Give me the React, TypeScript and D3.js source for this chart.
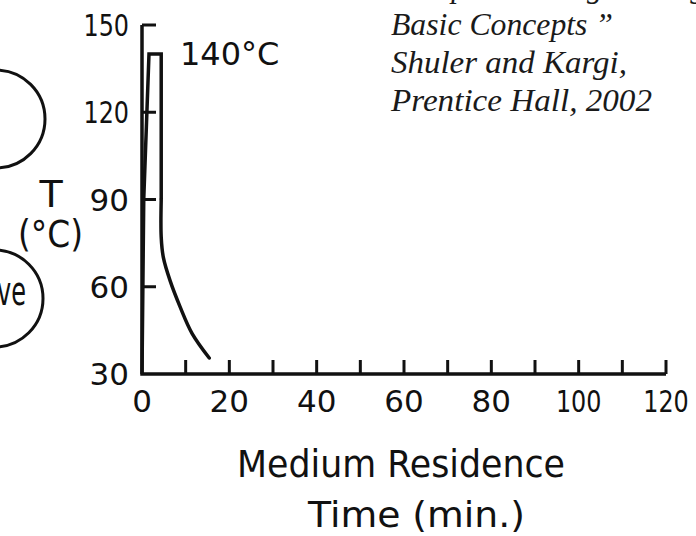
import React from "react";
import * as d3 from "d3";

// heating / holding / cooling profile
const riseTime = [0, 0.4, 1.6, 4.4, 4.4];
const riseTemp = [30, 90, 140, 140, 90];
const coolTime = [4.4, 4.4, 4.9, 6.45, 8.75, 11.45, 15.4];
const coolTemp = [90, 77, 70, 62, 53, 44, 35.5];

const xTickValues = [10, 20, 30, 40, 50, 60, 70, 80, 90, 100, 110, 120];
const xTickLabels = [0, 20, 40, 60, 80, 100, 120];
const yTickValues = [150, 120, 90, 60];
const yTickLabels = [150, 120, 90, 60, 30];

const citeLines = [
  "\u201CBioprocess Engineering:",
  "Basic Concepts \u201D",
  "Shuler and Kargi,",
  "Prentice Hall, 2002",
];
const citeWidths = [0, 222, 236, 261];

const W = 696;
const H = 536;
const lettering = "'DejaVu Sans', sans-serif";

const App: React.FC = () => {
  const x = d3.scaleLinear().domain([0, 120]).range([142, 666]);
  const y = d3.scaleLinear().domain([30, 150]).range([374, 25]);

  const line = d3
    .line<[number, number]>()
    .x((d) => x(d[0]))
    .y((d) => y(d[1]));

  const risePath = line.curve(d3.curveLinear)(
    riseTime.map((t, i) => [t, riseTemp[i]] as [number, number])
  );
  const coolPath = line.curve(d3.curveCatmullRom.alpha(0.5))(
    coolTime.map((t, i) => [t, coolTemp[i]] as [number, number])
  );

  const tickLen = 14;
  // the lettered "1" is a bare stroke, so numbers holding it run narrower
  const squeeze = (v: number) => (String(v).includes("1") ? 0.77 : 1);

  return (
    <svg
      width={W}
      height={H}
      style={{ position: "absolute", left: 0, top: 0, background: "#fff" }}
    >
      {/* cropped circles on the left edge */}
      <circle cx={-4} cy={119} r={49} fill="none" stroke="#111" strokeWidth={3} />
      <circle cx={-5.5} cy={298.5} r={48.5} fill="none" stroke="#111" strokeWidth={3} />
      <text
        transform="translate(26,305) scale(0.6,1)"
        textAnchor="end"
        fontFamily={lettering}
        fontSize={40}
        fill="#111"
      >
        ve
      </text>

      {/* y axis title */}
      <text x={51} y={207} textAnchor="middle" fontFamily={lettering} fontSize={38} fill="#111">
        T
      </text>
      <text
        x={18}
        y={247}
        textLength={65}
        lengthAdjust="spacingAndGlyphs"
        fontFamily={lettering}
        fontSize={37}
        fill="#111"
      >
        (°C)
      </text>

      {/* axes */}
      <path
        d={`M${x(0)},${y(150)} V${y(30)} H${x(120)}`}
        fill="none"
        stroke="#111"
        strokeWidth={3.5}
      />
      {yTickValues.map((v) => (
        <line
          key={"yt" + v}
          x1={x(0)}
          x2={x(0) + tickLen}
          y1={y(v)}
          y2={y(v)}
          stroke="#111"
          strokeWidth={3}
        />
      ))}
      {xTickValues.map((v) => (
        <line
          key={"xt" + v}
          x1={x(v)}
          x2={x(v)}
          y1={y(30)}
          y2={y(30) - tickLen}
          stroke="#111"
          strokeWidth={3}
        />
      ))}
      {yTickLabels.map((v) => (
        <text
          key={"yl" + v}
          transform={`translate(129,${y(v)}) scale(${squeeze(v)},1)`}
          dy="0.36em"
          textAnchor="end"
          fontFamily={lettering}
          fontSize={31}
          fill="#111"
        >
          {v}
        </text>
      ))}
      {xTickLabels.map((v) => (
        <text
          key={"xl" + v}
          transform={`translate(${x(v)},412) scale(${squeeze(v)},1)`}
          textAnchor="middle"
          fontFamily={lettering}
          fontSize={31}
          fill="#111"
        >
          {v}
        </text>
      ))}

      {/* temperature profile */}
      <path d={risePath || ""} fill="none" stroke="#111" strokeWidth={3.5} strokeLinejoin="miter" />
      <path d={coolPath || ""} fill="none" stroke="#111" strokeWidth={3.5} strokeLinecap="round" />
      <text x={180} y={65} fontFamily={lettering} fontSize={32} fill="#111">
        140°C
      </text>

      {/* x axis title */}
      <text
        x={237}
        y={477}
        textLength={328}
        lengthAdjust="spacingAndGlyphs"
        fontFamily={lettering}
        fontSize={37}
        fill="#111"
      >
        Medium Residence
      </text>
      <text
        x={308}
        y={527}
        textLength={217}
        lengthAdjust="spacingAndGlyphs"
        fontFamily={lettering}
        fontSize={35}
        fill="#111"
      >
        Time  (min.)
      </text>

      {/* citation */}
      {citeLines.map((s, i) => (
        <text
          key={"c" + i}
          x={391}
          y={-3 + i * 38}
          textLength={citeWidths[i] || undefined}
          lengthAdjust="spacingAndGlyphs"
          fontFamily="'Liberation Serif', 'Times New Roman', serif"
          fontStyle="italic"
          fontSize={31}
          fill="#1a1a1a"
        >
          {s}
        </text>
      ))}
    </svg>
  );
};

export default App;
